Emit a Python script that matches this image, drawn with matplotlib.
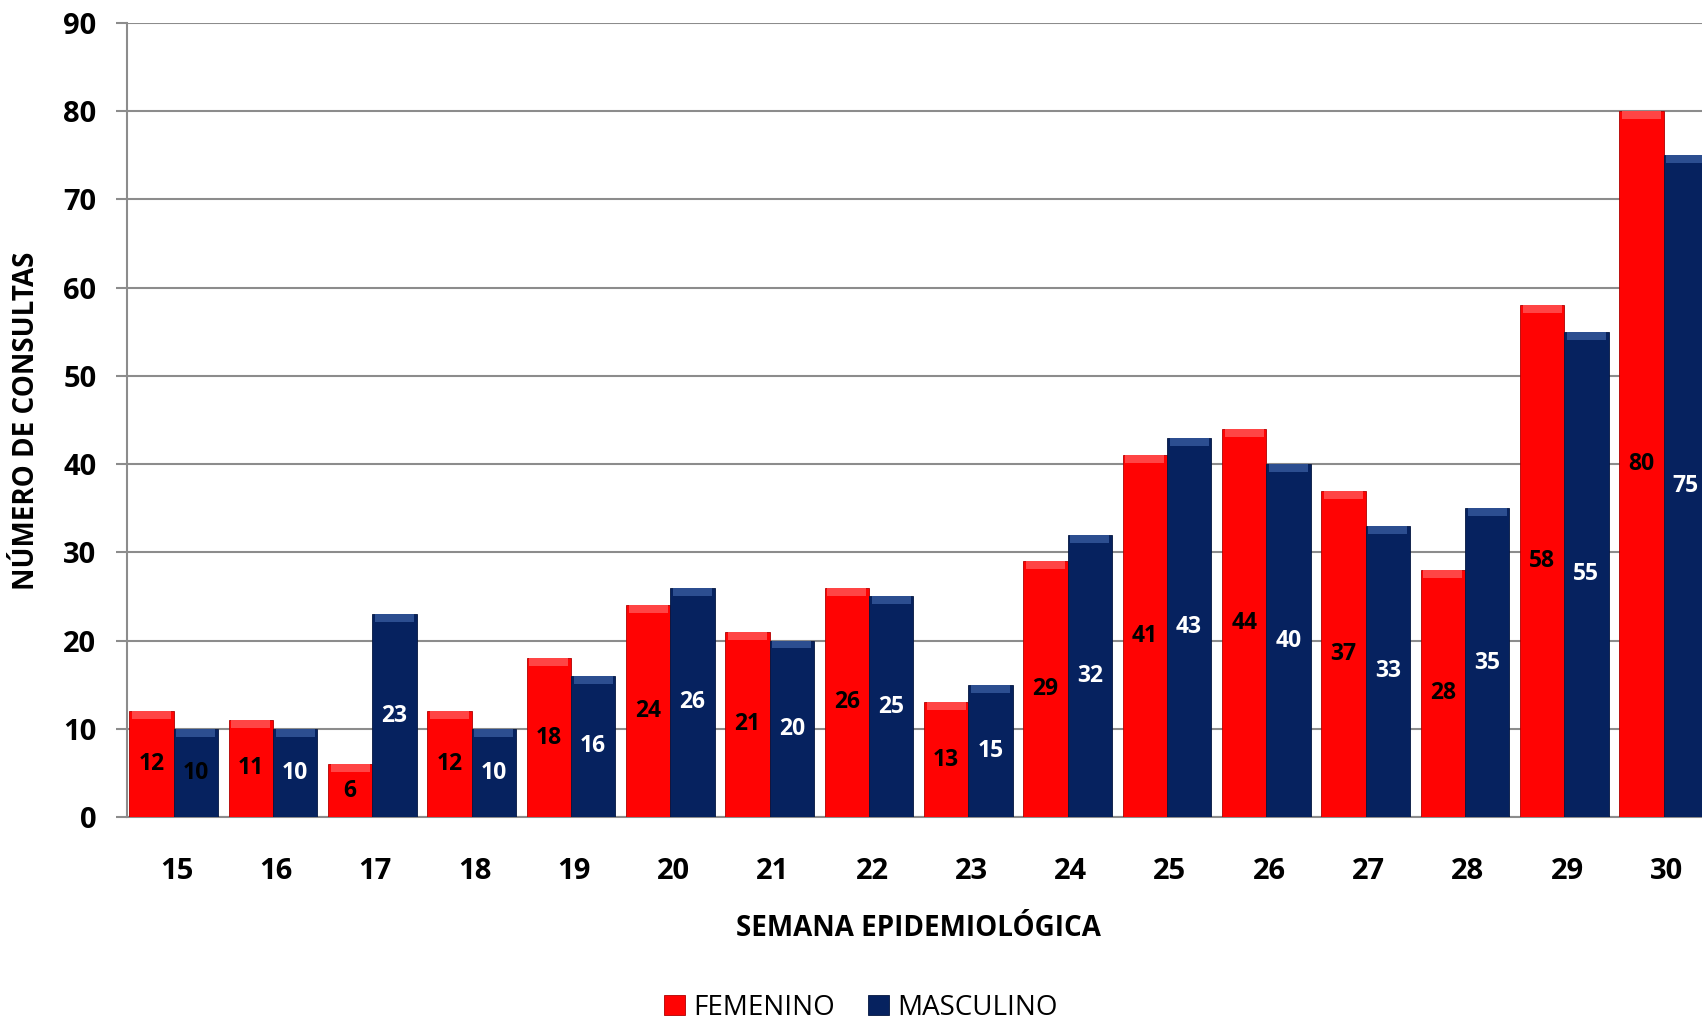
import matplotlib
matplotlib.use("Agg")
import matplotlib.pyplot as plt
import numpy as np

semanas = [15, 16, 17, 18, 19, 20, 21, 22, 23, 24, 25, 26, 27, 28, 29, 30]
femenino = [12, 11, 6, 12, 18, 24, 21, 26, 13, 29, 41, 44, 37, 28, 58, 80]
masculino = [10, 10, 23, 10, 16, 26, 20, 25, 15, 32, 43, 40, 33, 35, 55, 75]
masc_label_colors = ['black'] + ['white'] * 15
yticks = [0, 10, 20, 30, 40, 50, 60, 70, 80, 90]

plt.rcParams['font.family'] = ['Open Sans', 'DejaVu Sans']

W, H = 1702, 1019
fig = plt.figure(figsize=(W / 100, H / 100), dpi=100)
left = 127 / W
bottom = (H - 817) / H
top = (H - 23) / H
ax = fig.add_axes([left, bottom, 1.0 - left, top - bottom])

RED = '#FF0303'
BLUE = '#06225F'
x = np.array(semanas, dtype=float)
bw = 0.445
off = 0.03
b1 = ax.bar(x - bw / 2 - off, femenino, width=bw, color=RED, edgecolor='#B00000', linewidth=0.6, zorder=3)
b2 = ax.bar(x + bw / 2 - off, masculino, width=bw, color=BLUE, edgecolor='#031540', linewidth=0.6, zorder=3)

# subtle bevel highlight on the top of each bar
ax.bar(x - bw / 2 - off, [0.9] * len(x), bottom=np.array(femenino) - 0.9, width=bw * 0.88,
       color='#FF4545', linewidth=0, zorder=4)
ax.bar(x + bw / 2 - off, [0.9] * len(x), bottom=np.array(masculino) - 0.9, width=bw * 0.88,
       color='#2C4E90', linewidth=0, zorder=4)

for xi, v in zip(x, femenino):
    ax.text(xi - bw / 2 - off, v / 2, str(v), ha='center', va='center', fontsize=16.5,
            fontweight='bold', color='black', zorder=5)
for xi, v, c in zip(x, masculino, masc_label_colors):
    ax.text(xi + bw / 2 - off, v / 2, str(v), ha='center', va='center', fontsize=16.5,
            fontweight='bold', color=c, zorder=5)

ax.set_ylim(0, 90)
ax.set_xlim(14.5, 14.5 + (W - 127) / 99.33)
ax.set_yticks(yticks)
ax.set_xticks(x)
ax.set_xticklabels([str(s) for s in semanas])
ax.yaxis.grid(True, color='#8C8C8C', linewidth=1.5, zorder=0)
ax.set_axisbelow(True)
for s in ['top', 'right']:
    ax.spines[s].set_visible(False)
ax.spines['left'].set_color('#8C8C8C')
ax.spines['left'].set_linewidth(1.5)
ax.spines['bottom'].set_color('#8C8C8C')
ax.spines['bottom'].set_linewidth(1.5)
ax.tick_params(axis='y', length=8, width=1.5, color='#8C8C8C', pad=14, labelsize=21)
ax.tick_params(axis='x', length=0, pad=29, labelsize=21)
for lab in ax.get_xticklabels() + ax.get_yticklabels():
    lab.set_fontweight('bold')

fig.text(27 / W, 1 - 421 / H, 'NÚMERO DE CONSULTAS', rotation=90, ha='center', va='center',
         fontsize=20, fontweight='bold')
fig.text(918 / W, 1 - 928 / H, 'SEMANA EPIDEMIOLÓGICA', ha='center', va='center',
         fontsize=20, fontweight='bold')

leg = fig.legend([b1, b2], ['FEMENINO', 'MASCULINO'], loc='center', bbox_to_anchor=(861 / W, 1 - 1008 / H),
                 ncol=2, frameon=False, fontsize=20, handlelength=0.75, handleheight=0.75,
                 handletextpad=0.3, columnspacing=1.2, borderpad=0.1)

fig.savefig('out.png', dpi=100)
